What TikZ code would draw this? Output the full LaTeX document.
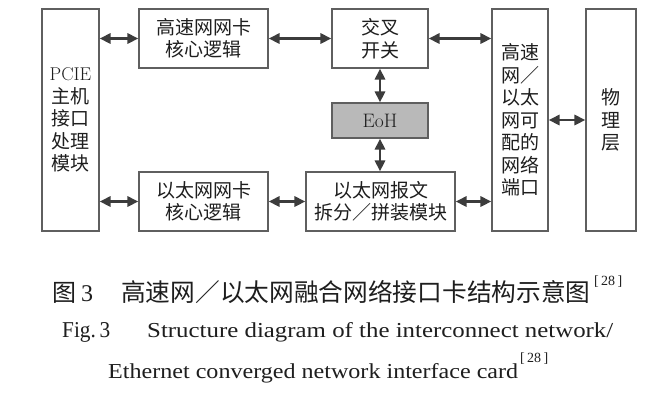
\documentclass[tikz,border=0pt]{standalone}
\usepackage{fontspec}
\usepackage{graphicx}
\newfontfamily\cjk{Noto Sans CJK SC}
\newfontfamily\tnr{Liberation Serif}
\usetikzlibrary{arrows.meta,calc}
\definecolor{boxline}{RGB}{95,95,95}
\definecolor{arrowc}{RGB}{60,60,60}
\definecolor{eohfill}{RGB}{185,185,185}
\definecolor{txt}{RGB}{30,30,30}
\begin{document}
\begin{tikzpicture}[x=1pt,y=-1pt,
  box/.style={draw=boxline, line width=1.1pt, inner sep=0pt, align=center, text=txt,
    font=\cjk\fontsize{19}{22.5}\selectfont},
  link/.style={draw=arrowc, fill=arrowc, line width=2.7pt,
    {Triangle[length=11pt,width=10pt]}-{Triangle[length=11pt,width=10pt]}},
  captext/.style={anchor=base west, inner sep=0pt, text=txt}
]
\fill[white] (0,0) rectangle (669,400);
\useasboundingbox (0,0) rectangle (669,400);

% boxes
\node[box, minimum width=57pt, minimum height=222pt] (pcie) at (70.5,120)
  {{\rmfamily\fontsize{18.5}{22.5}\selectfont PCIE}\\主机\\接口\\处理\\模块};
\node[box, minimum width=129pt, minimum height=59pt] (hs) at (203.5,38.5)
  {高速网网卡\\核心逻辑};
\node[box, minimum width=129pt, minimum height=59pt] (eth) at (203.5,201.5)
  {以太网网卡\\核心逻辑};
\node[box, minimum width=96pt, minimum height=59pt] (xbar) at (380,38.5)
  {交叉\\开关};
\node[box, fill=eohfill, minimum width=96pt, minimum height=35pt] (eoh) at (380,120.5)
  {\rmfamily\fontsize{19.5}{20}\selectfont EoH};
\node[box, minimum width=149pt, minimum height=59pt] (split) at (380.5,201.5)
  {以太网报文\\拆分／拼装模块};
\node[box, minimum width=56pt, minimum height=222pt] (port) at (520,120)
  {高速\\网／\\以太\\网可\\配的\\网络\\端口};
\node[box, minimum width=50pt, minimum height=222pt] (phy) at (611,120)
  {物\\理\\层};

% connectors
\draw[link] (pcie.east |- hs.west) -- (hs.west);
\draw[link] (hs) -- (xbar);
\draw[link] (xbar.east) -- (xbar.east -| port.west);
\draw[link] (port) -- (phy);
\draw[link] (pcie.east |- eth.west) -- (eth.west);
\draw[link] (eth) -- (split);
\draw[link] (split.east) -- (split.east -| port.west);
\draw[link] (xbar) -- (eoh);
\draw[link] (eoh.south) -- (eoh.south |- split.north);

% caption
\node[captext] (c1a) at (52,301) {\cjk\fontsize{24}{24}\selectfont 图};
\node[captext] (c1b) at (81,301) {\tnr\fontsize{24}{24}\selectfont 3};
\node[captext] (c1c) at (121,301) {\cjk\fontsize{24.7}{25}\selectfont 高速网／以太网融合网络接口卡结构示意图};
\node[captext] (c1d) at (594,285.5) {\tnr\fontsize{14}{14}\selectfont [\,28\,]};

\node[captext] (c2a) at (62,337) {\resizebox{48pt}{15pt}{\tnr Fig.\,3}};
\node[captext] (c2b) at (147,337) {\resizebox{466pt}{15pt}{\tnr Structure diagram of the interconnect network/}};

\node[captext] (c3a) at (108,378) {\resizebox{410pt}{15pt}{\tnr Ethernet converged network interface card}};
\node[captext] (c3b) at (520,362) {\tnr\fontsize{14}{14}\selectfont [\,28\,]};
\end{tikzpicture}
\end{document}
